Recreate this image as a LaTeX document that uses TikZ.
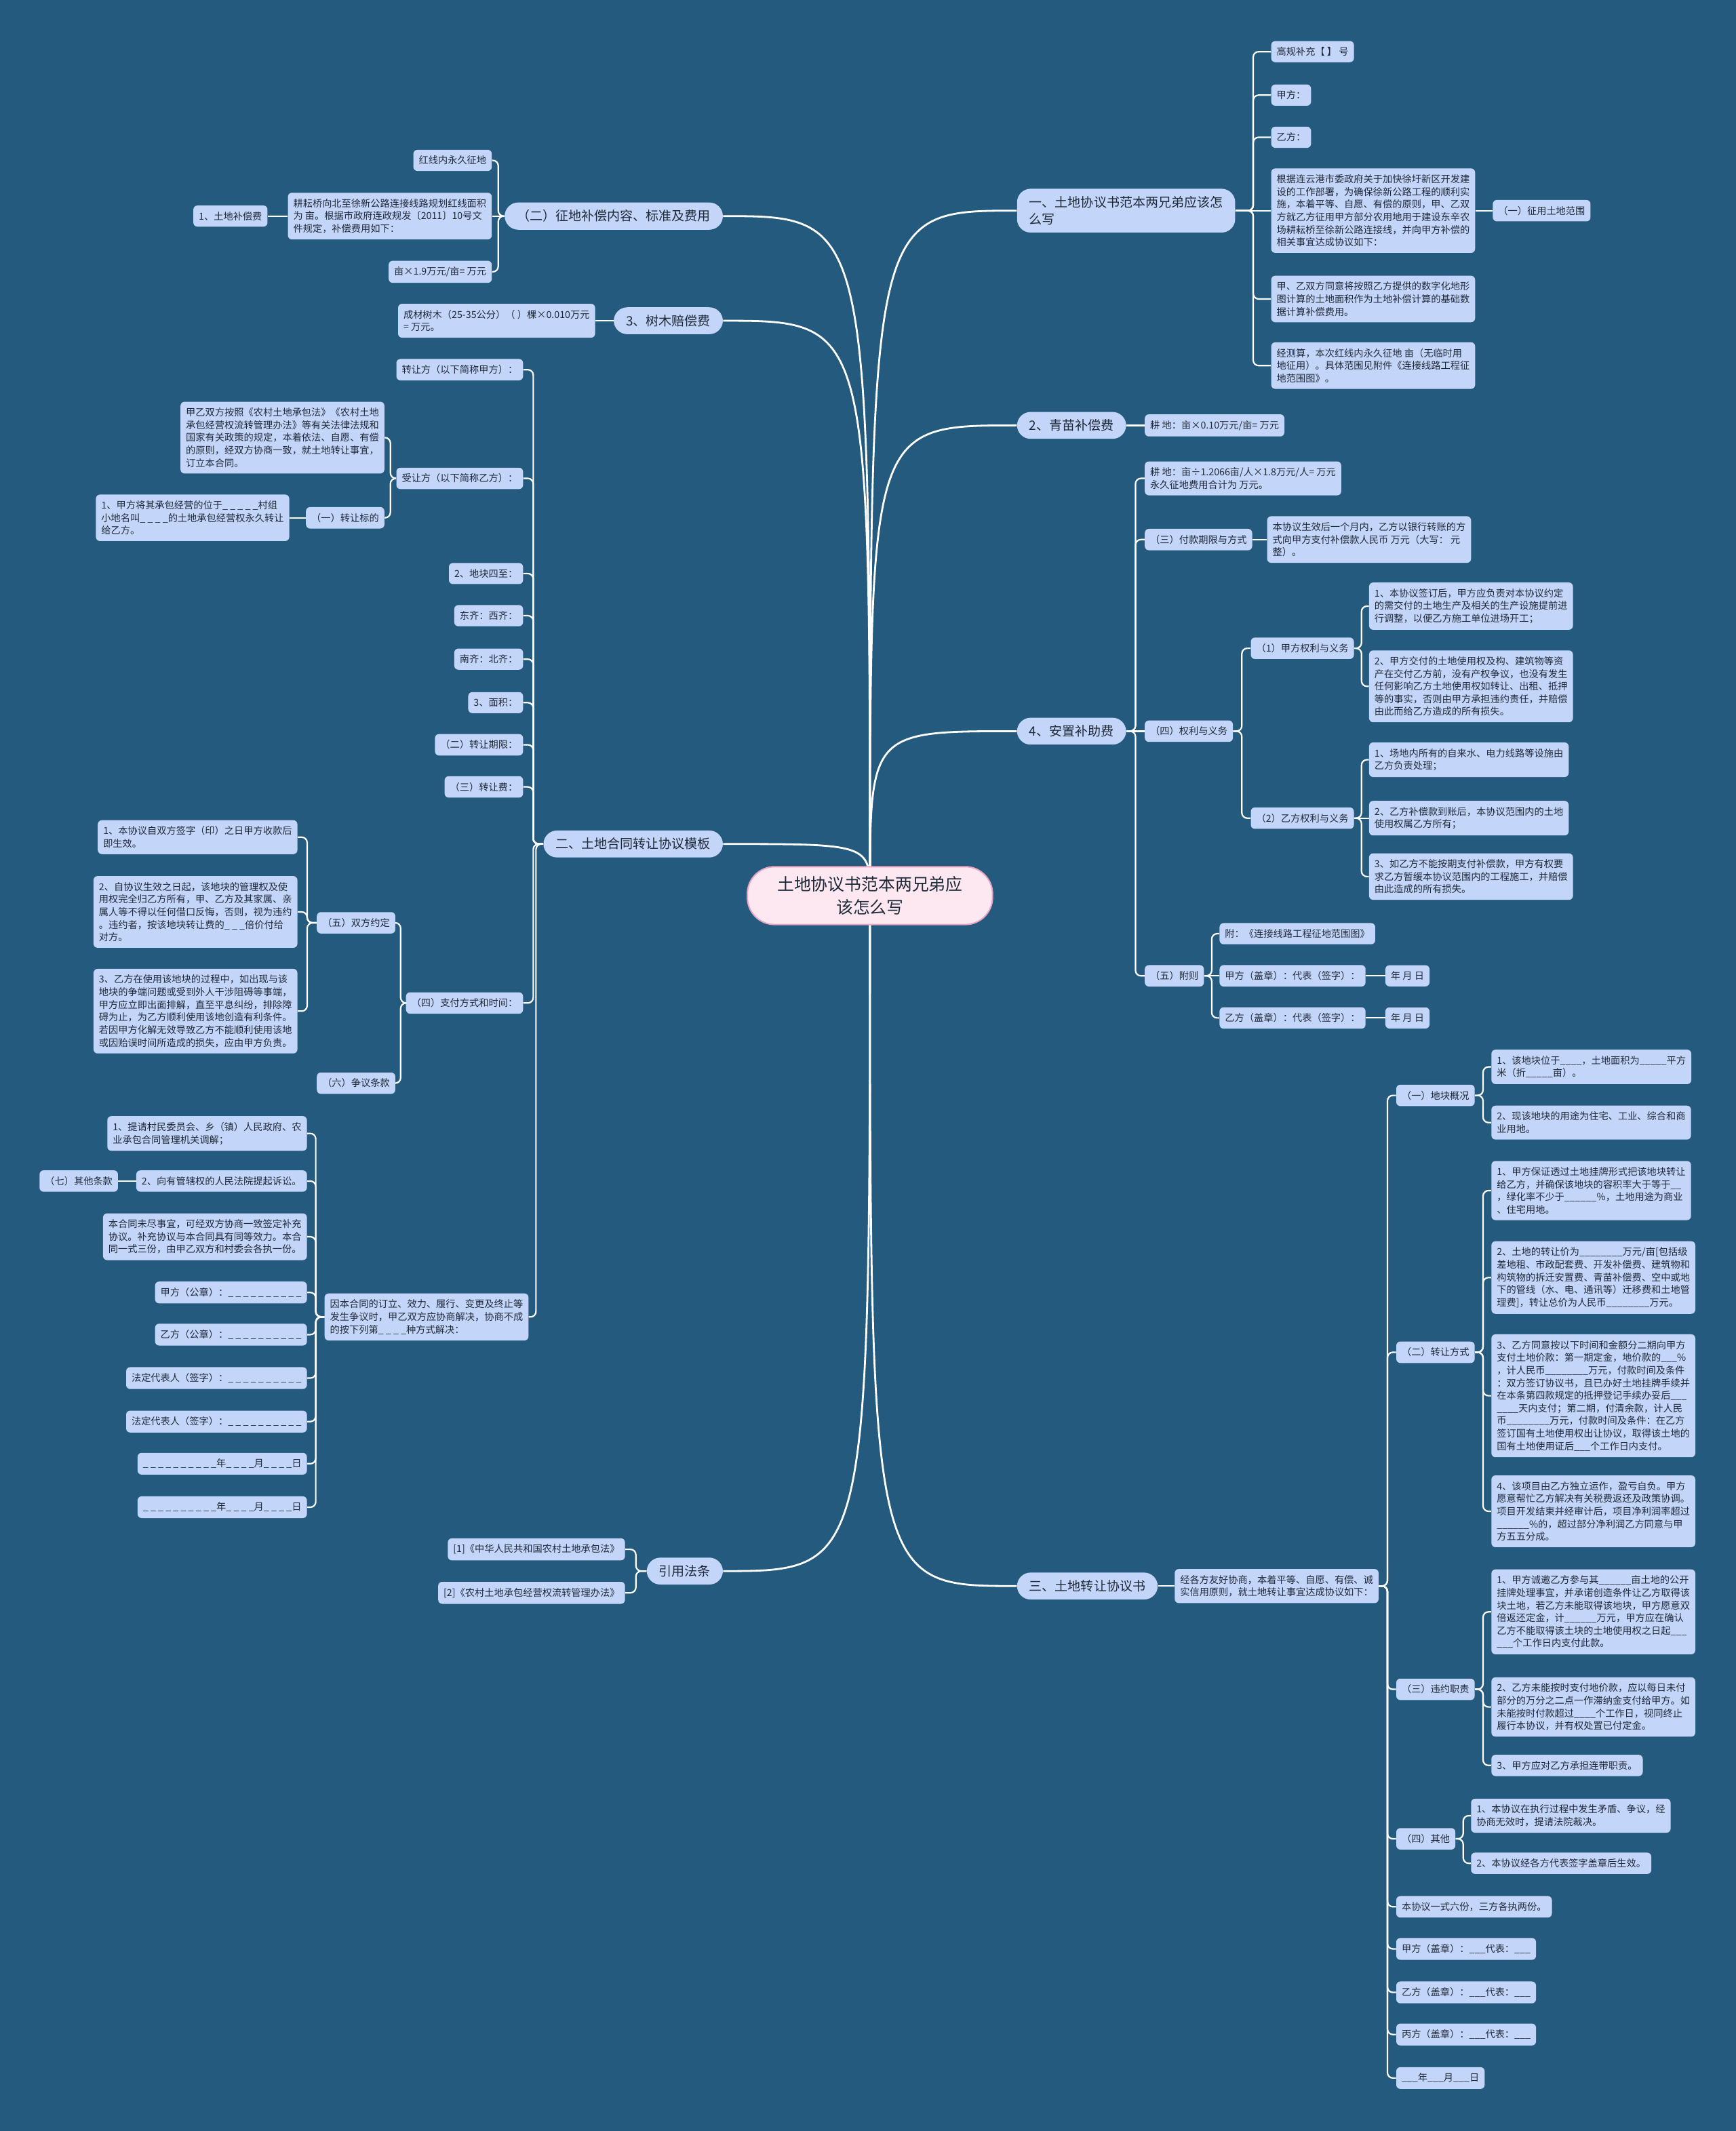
\documentclass[tikz,border=0pt]{standalone}
\usepackage{fontspec}
\setmainfont{Noto Sans CJK SC}
\usetikzlibrary{calc}
\pgfdeclarelayer{bglayer}
\pgfdeclarelayer{linelayer}
\pgfsetlayers{bglayer,linelayer,main}
\definecolor{bgc}{HTML}{235A7D}
\definecolor{nodec}{HTML}{C4D5FA}
\definecolor{txtc}{HTML}{1F2A38}
\definecolor{rootfill}{HTML}{FDE8F1}
\definecolor{rootdraw}{HTML}{E9A3C3}
\tikzset{
 sb/.style={fill=nodec, rounded corners=3pt, inner xsep=4pt, inner ysep=4.5pt, font=\fontsize{7.1}{9.3}\selectfont, align=left, text=txtc},
 mb/.style={fill=nodec, rounded corners=10pt, inner xsep=9pt, inner ysep=5.5pt, font=\fontsize{9.5}{12.5}\selectfont, align=left, text=txtc},
 rootn/.style={fill=rootfill, draw=rootdraw, line width=1pt, rounded corners=20pt, inner xsep=22pt, inner ysep=7pt, font=\fontsize{12.4}{17}\selectfont, align=center, text=txtc},
 conn/.style={draw=white, line width=1.1pt, rounded corners=4pt},
 rconn/.style={draw=white, line width=1.4pt},
}
\newcommand\conR[2]{\draw[conn] (#1.east) -- ($(#1.east)!.5!(#1.east -| #2.west)$) |- (#2.west);}
\newcommand\conL[2]{\draw[conn] (#1.west) -- ($(#1.west)!.5!(#1.west -| #2.east)$) |- (#2.east);}
\newcommand\conS[2]{\draw[conn] (#1.east) -- (#2.west);}
\newcommand\conSL[2]{\draw[conn] (#1.west) -- (#2.east);}
\newcommand\conRoot[2]{\draw[rconn] (root.center) .. controls (root.center |- #1.#2) .. (#1.#2);}
\begin{document}
\begin{tikzpicture}[x=1pt,y=-1pt]
\begin{pgfonlayer}{bglayer}
\fill[bgc] (0,0) rectangle (1277,1568);
\end{pgfonlayer}
\useasboundingbox (0,0) rectangle (1277,1568);

% root
\node[rootn] (root) at (640,659) {土地协议书范本两兄弟应\\该怎么写};

% main branches
\node[mb,anchor=west] (R1) at (748,155) {一、土地协议书范本两兄弟应该怎\\么写};
\node[mb,anchor=west] (R2) at (748,313) {2、青苗补偿费};
\node[mb,anchor=west] (R3) at (748,538) {4、安置补助费};
\node[mb,anchor=west] (R4) at (748,1167) {三、土地转让协议书};
\node[mb,anchor=east] (L1) at (532,159) {（二）征地补偿内容、标准及费用};
\node[mb,anchor=east] (L2) at (532,236) {3、树木赔偿费};
\node[mb,anchor=east] (L3) at (532,621) {二、土地合同转让协议模板};
\node[mb,anchor=east] (L4) at (532,1156) {引用法条};

% R1
\node[sb,anchor=west] (r1a) at (935,38) {高规补充【 】 号};
\node[sb,anchor=west] (r1b) at (935,70) {甲方：};
\node[sb,anchor=west] (r1c) at (935,101) {乙方：};
\node[sb,anchor=west] (r1d) at (935,155) {根据连云港市委政府关于加快徐圩新区开发建\\设的工作部署，为确保徐新公路工程的顺利实\\施，本着平等、自愿、有偿的原则，甲、乙双\\方就乙方征用甲方部分农用地用于建设东辛农\\场耕耘桥至徐新公路连接线，并向甲方补偿的\\相关事宜达成协议如下：};
\node[sb,anchor=west] (r1d1) at (1098,155) {（一）征用土地范围};
\node[sb,anchor=west] (r1e) at (935,220) {甲、乙双方同意将按照乙方提供的数字化地形\\图计算的土地面积作为土地补偿计算的基础数\\据计算补偿费用。};
\node[sb,anchor=west] (r1f) at (935,269) {经测算，本次红线内永久征地 亩（无临时用\\地征用）。具体范围见附件《连接线路工程征\\地范围图》。};

% R2
\node[sb,anchor=west] (r2a) at (842,313) {耕 地：亩×0.10万元/亩= 万元};

% R3
\node[sb,anchor=west] (r3a) at (842,352) {耕 地：亩÷1.2066亩/人×1.8万元/人= 万元\\永久征地费用合计为 万元。};
\node[sb,anchor=west] (r3b) at (842,397) {（三）付款期限与方式};
\node[sb,anchor=west] (r3b1) at (932,397) {本协议生效后一个月内，乙方以银行转账的方\\式向甲方支付补偿款人民币 万元（大写： 元\\整）。};
\node[sb,anchor=west] (r3c) at (842,538) {（四）权利与义务};
\node[sb,anchor=west] (r3c1) at (920,477) {（1）甲方权利与义务};
\node[sb,anchor=west] (r3c2) at (920,602) {（2）乙方权利与义务};
\node[sb,anchor=west] (r3c1a) at (1007,446) {1、本协议签订后，甲方应负责对本协议约定\\的需交付的土地生产及相关的生产设施提前进\\行调整，以便乙方施工单位进场开工；};
\node[sb,anchor=west] (r3c1b) at (1007,505) {2、甲方交付的土地使用权及构、建筑物等资\\产在交付乙方前，没有产权争议，也没有发生\\任何影响乙方土地使用权如转让、出租、抵押\\等的事实，否则由甲方承担违约责任，并赔偿\\由此而给乙方造成的所有损失。};
\node[sb,anchor=west] (r3c2a) at (1007,559) {1、场地内所有的自来水、电力线路等设施由\\乙方负责处理；};
\node[sb,anchor=west] (r3c2b) at (1007,602) {2、乙方补偿款到账后，本协议范围内的土地\\使用权属乙方所有；};
\node[sb,anchor=west] (r3c2c) at (1007,645) {3、如乙方不能按期支付补偿款，甲方有权要\\求乙方暂缓本协议范围内的工程施工，并赔偿\\由此造成的所有损失。};
\node[sb,anchor=west] (r3d) at (842,718) {（五）附则};
\node[sb,anchor=west] (r3d1) at (897,687) {附：《连接线路工程征地范围图》};
\node[sb,anchor=west] (r3d2) at (897,718) {甲方（盖章）：代表（签字）：};
\node[sb,anchor=west] (r3d3) at (897,749) {乙方（盖章）：代表（签字）：};
\node[sb,anchor=west] (r3d2a) at (1019,718) {年 月 日};
\node[sb,anchor=west] (r3d3a) at (1019,749) {年 月 日};

% R4
\node[sb,anchor=west] (r4a) at (864,1167) {经各方友好协商，本着平等、自愿、有偿、诚\\实信用原则，就土地转让事宜达成协议如下：};
\node[sb,anchor=west] (r4b) at (1027,806) {（一）地块概况};
\node[sb,anchor=west] (r4b1) at (1097,785) {1、该地块位于\_\_\_\_，土地面积为\_\_\_\_\_平方\\米（折\_\_\_\_\_亩）。};
\node[sb,anchor=west] (r4b2) at (1097,826) {2、现该地块的用途为住宅、工业、综合和商\\业用地。};
\node[sb,anchor=west] (r4c) at (1027,995) {（二）转让方式};
\node[sb,anchor=west] (r4c1) at (1097,876) {1、甲方保证透过土地挂牌形式把该地块转让\\给乙方，并确保该地块的容积率大于等于\_\_\\，绿化率不少于\_\_\_\_\_\_\%，土地用途为商业\\、住宅用地。};
\node[sb,anchor=west] (r4c2) at (1097,940) {2、土地的转让价为\_\_\_\_\_\_\_\_万元/亩[包括级\\差地租、市政配套费、开发补偿费、建筑物和\\构筑物的拆迁安置费、青苗补偿费、空中或地\\下的管线（水、电、通讯等）迁移费和土地管\\理费]，转让总价为人民币\_\_\_\_\_\_\_\_万元。};
\node[sb,anchor=west] (r4c3) at (1097,1027) {3、乙方同意按以下时间和金额分二期向甲方\\支付土地价款：第一期定金，地价款的\_\_\_\%\\，计人民币\_\_\_\_\_\_\_\_万元，付款时间及条件\\：双方签订协议书，且已办好土地挂牌手续并\\在本条第四款规定的抵押登记手续办妥后\_\_\_\\\_\_\_\_天内支付；第二期，付清余款，计人民\\币\_\_\_\_\_\_\_\_万元，付款时间及条件：在乙方\\签订国有土地使用权出让协议，取得该土地的\\国有土地使用证后\_\_\_个工作日内支付。};
\node[sb,anchor=west] (r4c4) at (1097,1112) {4、该项目由乙方独立运作，盈亏自负。甲方\\愿意帮忙乙方解决有关税费返还及政策协调。\\项目开发结束并经审计后，项目净利润率超过\\\_\_\_\_\_\_\%的，超过部分净利润乙方同意与甲\\方五五分成。};
\node[sb,anchor=west] (r4d) at (1027,1243) {（三）违约职责};
\node[sb,anchor=west] (r4d1) at (1097,1186) {1、甲方诚邀乙方参与其\_\_\_\_\_\_亩土地的公开\\挂牌处理事宜，并承诺创造条件让乙方取得该\\块土地，若乙方未能取得该地块，甲方愿意双\\倍返还定金，计\_\_\_\_\_\_万元，甲方应在确认\\乙方不能取得该土块的土地使用权之日起\_\_\_\\\_\_\_个工作日内支付此款。};
\node[sb,anchor=west] (r4d2) at (1097,1256) {2、乙方未能按时支付地价款，应以每日未付\\部分的万分之二点一作滞纳金支付给甲方。如\\未能按时付款超过\_\_\_\_个工作日，视同终止\\履行本协议，并有权处置已付定金。};
\node[sb,anchor=west] (r4d3) at (1097,1299) {3、甲方应对乙方承担连带职责。};
\node[sb,anchor=west] (r4e) at (1027,1353) {（四）其他};
\node[sb,anchor=west] (r4e1) at (1082,1336) {1、本协议在执行过程中发生矛盾、争议，经\\协商无效时，提请法院裁决。};
\node[sb,anchor=west] (r4e2) at (1082,1371) {2、本协议经各方代表签字盖章后生效。};
\node[sb,anchor=west] (r4f) at (1027,1403) {本协议一式六份，三方各执两份。};
\node[sb,anchor=west] (r4g) at (1027,1434) {甲方（盖章）：\_\_\_代表：\_\_\_};
\node[sb,anchor=west] (r4h) at (1027,1466) {乙方（盖章）：\_\_\_代表：\_\_\_};
\node[sb,anchor=west] (r4i) at (1027,1497) {丙方（盖章）：\_\_\_代表：\_\_\_};
\node[sb,anchor=west] (r4j) at (1027,1529) {\_\_\_年\_\_\_月\_\_\_日};

% L1
\node[sb,anchor=east] (l1a) at (362,118) {红线内永久征地};
\node[sb,anchor=east] (l1b) at (362,159) {耕耘桥向北至徐新公路连接线路规划红线面积\\为 亩。根据市政府连政规发〔2011〕10号文\\件规定，补偿费用如下：};
\node[sb,anchor=east] (l1b1) at (197,159) {1、土地补偿费};
\node[sb,anchor=east] (l1c) at (362,200) {亩×1.9万元/亩= 万元};

% L2
\node[sb,anchor=east] (l2a) at (438,236) {成材树木（25-35公分）（ ）棵×0.010万元\\= 万元。};

% L3
\node[sb,anchor=east] (l3a) at (385,272) {转让方（以下简称甲方）：};
\node[sb,anchor=east] (l3b) at (385,352) {受让方（以下简称乙方）：};
\node[sb,anchor=east] (l3b1) at (283,322) {甲乙双方按照《农村土地承包法》《农村土地\\承包经营权流转管理办法》等有关法律法规和\\国家有关政策的规定，本着依法、自愿、有偿\\的原则，经双方协商一致，就土地转让事宜，\\订立本合同。};
\node[sb,anchor=east] (l3b2) at (283,381) {（一）转让标的};
\node[sb,anchor=east] (l3b2a) at (213,381) {1、甲方将其承包经营的位于\_ \_ \_ \_ \_村组\\小地名叫\_ \_ \_ \_的土地承包经营权永久转让\\给乙方。};
\node[sb,anchor=east] (l3c) at (385,422) {2、地块四至：};
\node[sb,anchor=east] (l3d) at (385,453) {东齐：西齐：};
\node[sb,anchor=east] (l3e) at (385,485) {南齐：北齐：};
\node[sb,anchor=east] (l3f) at (385,517) {3、面积：};
\node[sb,anchor=east] (l3g) at (385,548) {（二）转让期限：};
\node[sb,anchor=east] (l3h) at (385,579) {（三）转让费：};
\node[sb,anchor=east] (l3i) at (385,738) {（四）支付方式和时间：};
\node[sb,anchor=east] (l3i1) at (291,679) {（五）双方约定};
\node[sb,anchor=east] (l3i2) at (291,797) {（六）争议条款};
\node[sb,anchor=east] (l3i1a) at (219,616) {1、本协议自双方签字（印）之日甲方收款后\\即生效。};
\node[sb,anchor=east] (l3i1b) at (219,671) {2、自协议生效之日起，该地块的管理权及使\\用权完全归乙方所有，甲、乙方及其家属、亲\\属人等不得以任何借口反悔，否则，视为违约\\。违约者，按该地块转让费的\_ \_ \_倍价付给\\对方。};
\node[sb,anchor=east] (l3i1c) at (219,744) {3、乙方在使用该地块的过程中，如出现与该\\地块的争端问题或受到外人干涉阻碍等事端，\\甲方应立即出面排解，直至平息纠纷，排除障\\碍为止，为乙方顺利使用该地创造有利条件。\\若因甲方化解无效导致乙方不能顺利使用该地\\或因贻误时间所造成的损失，应由甲方负责。};
\node[sb,anchor=east] (l3j) at (389,969) {因本合同的订立、效力、履行、变更及终止等\\发生争议时，甲乙双方应协商解决，协商不成\\的按下列第\_ \_ \_ \_种方式解决：};
\node[sb,anchor=east] (l3j1) at (226,834) {1、提请村民委员会、乡（镇）人民政府、农\\业承包合同管理机关调解；};
\node[sb,anchor=east] (l3j2) at (226,869) {2、向有管辖权的人民法院提起诉讼。};
\node[sb,anchor=east] (l3j2a) at (87,869) {（七）其他条款};
\node[sb,anchor=east] (l3j3) at (226,910) {本合同未尽事宜，可经双方协商一致签定补充\\协议。补充协议与本合同具有同等效力。本合\\同一式三份，由甲乙双方和村委会各执一份。};
\node[sb,anchor=east] (l3j4) at (226,951) {甲方（公章）：\_ \_ \_ \_ \_ \_ \_ \_ \_ \_};
\node[sb,anchor=east] (l3j5) at (226,982) {乙方（公章）：\_ \_ \_ \_ \_ \_ \_ \_ \_ \_};
\node[sb,anchor=east] (l3j6) at (226,1014) {法定代表人（签字）：\_ \_ \_ \_ \_ \_ \_ \_ \_ \_};
\node[sb,anchor=east] (l3j7) at (226,1046) {法定代表人（签字）：\_ \_ \_ \_ \_ \_ \_ \_ \_ \_};
\node[sb,anchor=east] (l3j8) at (226,1077) {\_ \_ \_ \_ \_ \_ \_ \_ \_ \_年\_ \_ \_ \_月\_ \_ \_ \_日};
\node[sb,anchor=east] (l3j9) at (226,1109) {\_ \_ \_ \_ \_ \_ \_ \_ \_ \_年\_ \_ \_ \_月\_ \_ \_ \_日};

% L4
\node[sb,anchor=east] (l4a) at (460,1140) {[1]《中华人民共和国农村土地承包法》};
\node[sb,anchor=east] (l4b) at (460,1172) {[2]《农村土地承包经营权流转管理办法》};

\begin{pgfonlayer}{linelayer}
\conRoot{R1}{west}
\conRoot{R2}{west}
\conRoot{R3}{west}
\conRoot{R4}{west}
\conRoot{L1}{east}
\conRoot{L2}{east}
\conRoot{L3}{east}
\conRoot{L4}{east}
% R1
\conR{R1}{r1a}\conR{R1}{r1b}\conR{R1}{r1c}\conS{R1}{r1d}\conR{R1}{r1e}\conR{R1}{r1f}
\conS{r1d}{r1d1}
% R2
\conS{R2}{r2a}
% R3
\conR{R3}{r3a}\conR{R3}{r3b}\conS{R3}{r3c}\conR{R3}{r3d}
\conS{r3b}{r3b1}
\conR{r3c}{r3c1}\conR{r3c}{r3c2}
\conR{r3c1}{r3c1a}\conR{r3c1}{r3c1b}
\conR{r3c2}{r3c2a}\conS{r3c2}{r3c2b}\conR{r3c2}{r3c2c}
\conR{r3d}{r3d1}\conS{r3d}{r3d2}\conR{r3d}{r3d3}
\conS{r3d2}{r3d2a}\conS{r3d3}{r3d3a}
% R4
\conS{R4}{r4a}
\conR{r4a}{r4b}\conR{r4a}{r4c}\conR{r4a}{r4d}\conR{r4a}{r4e}\conR{r4a}{r4f}\conR{r4a}{r4g}\conR{r4a}{r4h}\conR{r4a}{r4i}\conR{r4a}{r4j}
\conR{r4b}{r4b1}\conR{r4b}{r4b2}
\conR{r4c}{r4c1}\conR{r4c}{r4c2}\conR{r4c}{r4c3}\conR{r4c}{r4c4}
\conR{r4d}{r4d1}\conR{r4d}{r4d2}\conR{r4d}{r4d3}
\conR{r4e}{r4e1}\conR{r4e}{r4e2}
% L1
\conL{L1}{l1a}\conSL{L1}{l1b}\conL{L1}{l1c}
\conSL{l1b}{l1b1}
% L2
\conSL{L2}{l2a}
% L3
\conL{L3}{l3a}\conL{L3}{l3b}\conL{L3}{l3c}\conL{L3}{l3d}\conL{L3}{l3e}\conL{L3}{l3f}\conL{L3}{l3g}\conL{L3}{l3h}\conL{L3}{l3i}\conL{L3}{l3j}
\conL{l3b}{l3b1}\conL{l3b}{l3b2}
\conSL{l3b2}{l3b2a}
\conL{l3i}{l3i1}\conL{l3i}{l3i2}
\conL{l3i1}{l3i1a}\conL{l3i1}{l3i1b}\conL{l3i1}{l3i1c}
\conL{l3j}{l3j1}\conL{l3j}{l3j2}\conL{l3j}{l3j3}\conL{l3j}{l3j4}\conL{l3j}{l3j5}\conL{l3j}{l3j6}\conL{l3j}{l3j7}\conL{l3j}{l3j8}\conL{l3j}{l3j9}
\conSL{l3j2}{l3j2a}
% L4
\conL{L4}{l4a}\conL{L4}{l4b}
\end{pgfonlayer}
\end{tikzpicture}
\end{document}
